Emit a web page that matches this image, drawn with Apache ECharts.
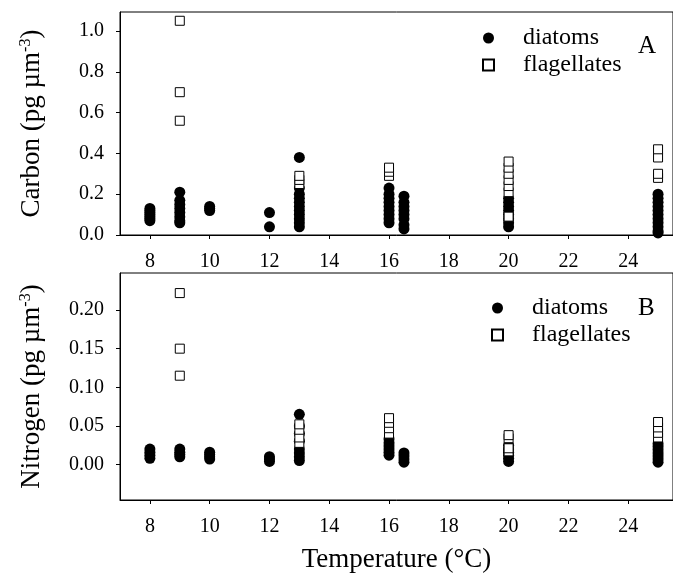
<!DOCTYPE html>
<html>
<head>
<meta charset="utf-8">
<script src="https://cdn.jsdelivr.net/npm/echarts@6/dist/echarts.min.js"></script>
<style>
html, body { margin: 0; background: #fff; }
#chart { width: 673px; height: 577px; }
</style>
</head>
<body>
<div id="chart"></div>
<script>
// temperature ticks shared by both panels
const tempTicks = [8, 10, 12, 14, 16, 18, 20, 22, 24];
const carbonTicks = [0, 0.2, 0.4, 0.6, 0.8, 1.0];
const nitrogenTicks = [0, 0.05, 0.10, 0.15, 0.20];

// panel A: carbon per volume, [temperature, value]
const carbonDiatoms = [
	[8, 0.07], [8, 0.08], [8, 0.09], [8, 0.10], [8, 0.11], [8, 0.12], [8, 0.13],
	[9, 0.06], [9, 0.07], [9, 0.09], [9, 0.11], [9, 0.13], [9, 0.15], [9, 0.17], [9, 0.21],
	[10, 0.12], [10, 0.13], [10, 0.14],
	[12, 0.04], [12, 0.11],
	[13, 0.04], [13, 0.06], [13, 0.08], [13, 0.10], [13, 0.12], [13, 0.14], [13, 0.16], [13, 0.18], [13, 0.20], [13, 0.23], [13, 0.38],
	[16, 0.06], [16, 0.08], [16, 0.10], [16, 0.12], [16, 0.14], [16, 0.16], [16, 0.18], [16, 0.20], [16, 0.23],
	[16.5, 0.03], [16.5, 0.05], [16.5, 0.08], [16.5, 0.10], [16.5, 0.12], [16.5, 0.14], [16.5, 0.16], [16.5, 0.19],
	[20, 0.04], [20, 0.06], [20, 0.08], [20, 0.10], [20, 0.12], [20, 0.14], [20, 0.16], [20, 0.18],
	[25, 0.01], [25, 0.02], [25, 0.04], [25, 0.06], [25, 0.08], [25, 0.10], [25, 0.12], [25, 0.14], [25, 0.16], [25, 0.18], [25, 0.20]
];
const carbonFlagellates = [
	[9, 1.05], [9, 0.70], [9, 0.56],
	[13, 0.25], [13, 0.27], [13, 0.29],
	[16, 0.29], [16, 0.31], [16, 0.33],
	[20, 0.09], [20, 0.21], [20, 0.24], [20, 0.27], [20, 0.30], [20, 0.33], [20, 0.36],
	[25, 0.28], [25, 0.30], [25, 0.38], [25, 0.42]
];

// panel B: nitrogen per volume
const nitrogenDiatoms = [
	[8, 0.008], [8, 0.012], [8, 0.016], [8, 0.020],
	[9, 0.010], [9, 0.013], [9, 0.016], [9, 0.020],
	[10, 0.007], [10, 0.010], [10, 0.013], [10, 0.016],
	[12, 0.004], [12, 0.007], [12, 0.010],
	[13, 0.005], [13, 0.010], [13, 0.015], [13, 0.020], [13, 0.030], [13, 0.040], [13, 0.050], [13, 0.065],
	[16, 0.012], [16, 0.016], [16, 0.020], [16, 0.024], [16, 0.028], [16, 0.033],
	[16.5, 0.003], [16.5, 0.007], [16.5, 0.011], [16.5, 0.015],
	[20, 0.004], [20, 0.008], [20, 0.012], [20, 0.016], [20, 0.020], [20, 0.025],
	[25, 0.003], [25, 0.007], [25, 0.011], [25, 0.015], [25, 0.019], [25, 0.023], [25, 0.027]
];
const nitrogenFlagellates = [
	[9, 0.222], [9, 0.150], [9, 0.115],
	[13, 0.028], [13, 0.035], [13, 0.045], [13, 0.052],
	[16, 0.040], [16, 0.047], [16, 0.054], [16, 0.060],
	[20, 0.017], [20, 0.021], [20, 0.034], [20, 0.038],
	[25, 0.035], [25, 0.041], [25, 0.048], [25, 0.055]
];

const FONT = 'Liberation Serif';
const chart = echarts.init(document.getElementById('chart'));

function xAxisFor(gridIndex, withName) {
	const ax = {
		gridIndex: gridIndex,
		type: 'value',
		min: 7,
		max: 25.5,
		axisLine: { onZero: false, lineStyle: { color: '#000', width: 1 } },
		axisTick: { customValues: tempTicks, length: 4, lineStyle: { color: '#000' } },
		axisLabel: { customValues: tempTicks, fontSize: 20, fontFamily: FONT, color: '#000', margin: 17 },
		splitLine: { show: false }
	};
	if (withName) {
		ax.name = 'Temperature (°C)';
		ax.nameLocation = 'middle';
		ax.nameGap = 46;
		ax.nameTextStyle = { fontSize: 27, fontFamily: FONT, color: '#000' };
	}
	return ax;
}

function yAxisFor(gridIndex, min, max, ticks, digits, label) {
	return {
		gridIndex: gridIndex,
		type: 'value',
		min: min,
		max: max,
		name: '{a|' + label + ' (pg µm}{s|-3}{a|)}',
		nameLocation: 'middle',
		nameGap: 74,
		nameTextStyle: {
			color: '#000',
			rich: {
				a: { fontSize: 27, fontFamily: FONT, color: '#000' },
				s: { fontSize: 16, fontFamily: FONT, color: '#000', verticalAlign: 'bottom', padding: [0, 0, 12, 0] }
			}
		},
		axisLine: { onZero: false, lineStyle: { color: '#000', width: 1 } },
		axisTick: { customValues: ticks, length: 4, lineStyle: { color: '#000' } },
		axisLabel: {
			customValues: ticks, fontSize: 20, fontFamily: FONT, color: '#000', margin: 16,
			formatter: v => v.toFixed(digits)
		},
		splitLine: { show: false }
	};
}

function legendFor(left, top) {
	return {
		orient: 'vertical',
		left: left,
		top: top,
		itemGap: 3,
		itemWidth: 11,
		itemHeight: 11,
		textStyle: { fontSize: 24, fontFamily: FONT, color: '#000', padding: [0, 0, 0, 24] },
		data: [{ name: 'diatoms', icon: 'circle' }, { name: 'flagellates', icon: 'rect' }]
	};
}

const circleStyle = { color: '#000', opacity: 1 };
const squareStyle = { color: '#fff', borderColor: '#000', borderWidth: 1, opacity: 1 };

var option = {
	backgroundColor: '#ffffff',
	animation: false,
	title: [
		{ text: 'A', left: 633, top: 29, textStyle: { fontSize: 25, fontWeight: 'normal', fontFamily: FONT, color: '#000' } },
		{ text: 'B', left: 633, top: 291, textStyle: { fontSize: 25, fontWeight: 'normal', fontFamily: FONT, color: '#000' } }
	],
	legend: [legendFor(477, 21), legendFor(486, 291)],
	grid: [
		{ left: 120, top: 12, width: 555, height: 223, show: true, borderColor: '#000', borderWidth: 1 },
		{ left: 120, top: 273, width: 555, height: 227, show: true, borderColor: '#000', borderWidth: 1 }
	],
	xAxis: [xAxisFor(0, false), xAxisFor(1, true)],
	yAxis: [
		yAxisFor(0, 0, 1.093, carbonTicks, 1, 'Carbon'),
		yAxisFor(1, -0.046, 0.248, nitrogenTicks, 2, 'Nitrogen')
	],
	series: [
		{ name: 'diatoms', type: 'scatter', xAxisIndex: 0, yAxisIndex: 0, symbol: 'circle', symbolSize: 11, itemStyle: circleStyle, data: carbonDiatoms },
		{ name: 'flagellates', type: 'scatter', xAxisIndex: 0, yAxisIndex: 0, symbol: 'rect', symbolSize: 9, itemStyle: squareStyle, data: carbonFlagellates },
		{ name: 'diatoms', type: 'scatter', xAxisIndex: 1, yAxisIndex: 1, symbol: 'circle', symbolSize: 11, itemStyle: circleStyle, data: nitrogenDiatoms },
		{ name: 'flagellates', type: 'scatter', xAxisIndex: 1, yAxisIndex: 1, symbol: 'rect', symbolSize: 9, itemStyle: squareStyle, data: nitrogenFlagellates }
	]
};

chart.setOption(option);
</script>
</body>
</html>
